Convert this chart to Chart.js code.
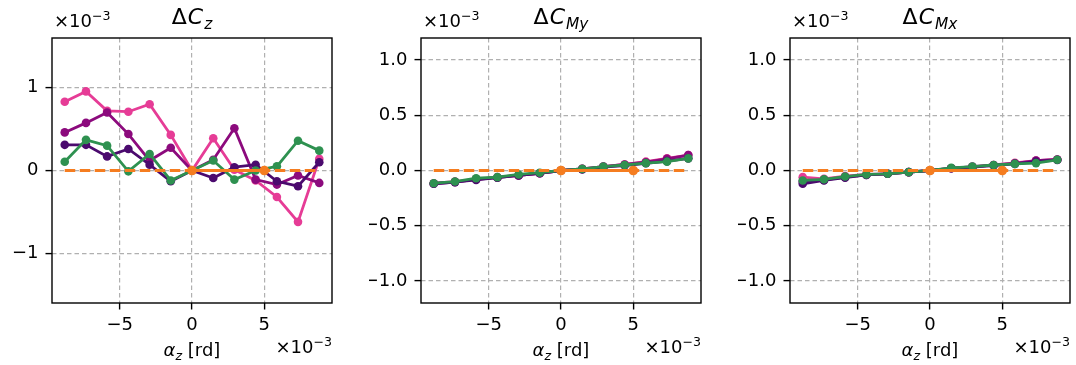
<!DOCTYPE html>
<html>
<head>
<meta charset="utf-8">
<script src="https://cdn.jsdelivr.net/npm/chart.js@4"></script>
<style>
body { margin: 0; background: #fff; width: 1076px; height: 365px; position: relative; overflow: hidden; }
canvas { position: absolute; top: 0; }
</style>
</head>
<body>
<canvas id="cz" width="338" height="365" style="left:0px"></canvas>
<canvas id="cmy" width="338" height="365" style="left:369px"></canvas>
<canvas id="cmx" width="338" height="365" style="left:738px"></canvas>
<script>
// all values in units of 1e-3 (see the x10^-3 offset labels)
const alphaZ = [-8.8, -7.33, -5.87, -4.4, -2.93, -1.47, 0, 1.47, 2.93, 4.4, 5.87, 7.33, 8.8];
const refX = [-8.8, 8.8];
const refY = [0, 0];
const nomX = [0, 5];
const nomY = [0, 0];

const czPink    = [0.83, 0.955, 0.72, 0.71, 0.80, 0.43, 0, 0.39, 0.01, -0.12, -0.32, -0.62, 0.14];
const czMagenta = [0.46, 0.575, 0.70, 0.44, 0.12, 0.275, 0, 0.13, 0.51, -0.11, -0.17, -0.06, -0.15];
const czIndigo  = [0.31, 0.31, 0.17, 0.26, 0.07, -0.13, 0, -0.09, 0.04, 0.07, -0.13, -0.19, 0.10];
const czGreen   = [0.105, 0.37, 0.30, -0.01, 0.20, -0.12, 0, 0.12, -0.11, 0.0, 0.05, 0.36, 0.24];

const cmyPink    = [-0.115, -0.10, -0.08, -0.06, -0.045, -0.025, 0, 0.015, 0.035, 0.055, 0.08, 0.11, 0.14];
const cmyMagenta = [-0.12, -0.105, -0.08, -0.065, -0.045, -0.025, 0, 0.015, 0.035, 0.055, 0.075, 0.105, 0.14];
const cmyIndigo  = [-0.12, -0.105, -0.085, -0.065, -0.045, -0.025, 0, 0.01, 0.03, 0.045, 0.065, 0.085, 0.11];
const cmyGreen   = [-0.115, -0.10, -0.07, -0.06, -0.036, -0.02, 0, 0.015, 0.036, 0.05, 0.067, 0.08, 0.11];

const cmxPink    = [-0.06, -0.075, -0.05, -0.035, -0.03, -0.015, 0, 0.02, 0.03, 0.05, 0.07, 0.09, 0.10];
const cmxMagenta = [-0.10, -0.085, -0.06, -0.04, -0.03, -0.015, 0, 0.02, 0.035, 0.05, 0.065, 0.09, 0.10];
const cmxIndigo  = [-0.12, -0.09, -0.065, -0.04, -0.03, -0.015, 0, 0.02, 0.03, 0.045, 0.06, 0.08, 0.095];
const cmxGreen   = [-0.09, -0.08, -0.055, -0.036, -0.03, -0.015, 0, 0.024, 0.036, 0.05, 0.06, 0.067, 0.097];

const xTicks = [-5, 0, 5];
const xTickLabels = ['\u22125', '0', '5'];
const czTicks = [-1, 0, 1];
const czTickLabels = ['\u22121', '0', '1'];
const cmTicks = [-1, -0.5, 0, 0.5, 1];
const cmTickLabels = ['\u22121.0', '\u22120.5', '0.0', '0.5', '1.0'];

const F = "'DejaVu Sans'";
const colPink = '#e63c96', colMagenta = '#8c0a7d', colIndigo = '#4b0a6e', colGreen = '#2e9150', colOrange = '#f57d20';

function pts(xs, ys) {
    return xs.map((x, i) => ({x: x, y: ys[i]}));
}

function drawRich(ctx, parts, x, y, align) {
    let w = 0;
    parts.forEach(p => { ctx.font = p.font; w += ctx.measureText(p.t).width + (p.gap || 0); });
    let cx = align === 'center' ? x - w / 2 : (align === 'right' ? x - w : x);
    ctx.fillStyle = '#000';
    ctx.textAlign = 'left';
    ctx.textBaseline = 'alphabetic';
    parts.forEach(p => {
        ctx.font = p.font;
        ctx.fillText(p.t, cx, y + (p.dy || 0));
        cx += ctx.measureText(p.t).width + (p.gap || 0);
    });
}

const offsetParts = [
    {t: '\u00d710', font: `18px ${F}`},
    {t: '\u22123', font: `12.6px ${F}`, dy: -7.5}
];
const xlabelParts = [
    {t: '\u03b1', font: `italic 18px ${F}`},
    {t: 'z', font: `italic 12.6px ${F}`, dy: 3.5},
    {t: ' [rd]', font: `18px ${F}`}
];

const panelText = {
    id: 'panelText',
    afterDraw(chart, args, opts) {
        const ctx = chart.ctx, a = chart.chartArea;
        ctx.save();
        ctx.strokeStyle = '#000';
        ctx.lineWidth = 1.4;
        ctx.strokeRect(a.left, a.top, a.right - a.left, a.bottom - a.top);
        drawRich(ctx, [
            {t: '\u0394', font: `22px ${F}`, gap: 1},
            {t: 'C', font: `italic 22px ${F}`, gap: 1},
            {t: opts.sub, font: `italic 15.4px ${F}`, dy: 4.5}
        ], (a.left + a.right) / 2, 24, 'center');
        drawRich(ctx, offsetParts, a.left + 2, 27, 'left');
        drawRich(ctx, offsetParts, a.right, 353, 'right');
        drawRich(ctx, xlabelParts, (a.left + a.right) / 2, 356, 'center');
        ctx.restore();
    }
};

function series(ys, color, order) {
    return {
        data: pts(alphaZ, ys),
        borderColor: color,
        backgroundColor: color,
        borderWidth: 2.8,
        pointRadius: 4.3,
        pointBorderWidth: 0,
        pointBackgroundColor: color,
        order: order
    };
}

function makePanel(id, sub, pink, magenta, indigo, green, yLim, yTicks, yLabels) {
    return new Chart(document.getElementById(id), {
        type: 'line',
        data: {
            datasets: [
                series(pink, colPink, 5),
                series(magenta, colMagenta, 4),
                series(indigo, colIndigo, 3),
                series(green, colGreen, 2),
                {
                    data: pts(refX, refY),
                    borderColor: colOrange,
                    borderWidth: 3,
                    borderDash: [10.5, 4.5],
                    pointRadius: 0,
                    order: 1
                },
                {
                    data: pts(nomX, nomY),
                    borderColor: colOrange,
                    backgroundColor: colOrange,
                    borderWidth: 3,
                    pointRadius: 4.8,
                    pointBorderWidth: 0,
                    pointBackgroundColor: colOrange,
                    order: 0
                }
            ]
        },
        options: {
            responsive: false,
            animation: false,
            layout: {padding: {left: 0, right: 6, top: 38, bottom: 0}},
            plugins: {
                legend: {display: false},
                tooltip: {enabled: false},
                panelText: {sub: sub}
            },
            scales: {
                x: {
                    type: 'linear',
                    min: -9.68,
                    max: 9.68,
                    afterBuildTicks: s => { s.ticks = xTicks.map(v => ({value: v})); },
                    afterFit: s => { s.height = 62; },
                    ticks: {
                        callback: (v, i) => xTickLabels[i],
                        color: '#000',
                        padding: 5,
                        maxRotation: 0,
                        font: {family: F, size: 18}
                    },
                    grid: {color: '#b0b0b0', lineWidth: 1.2, tickColor: '#000', tickWidth: 1.4, tickLength: 6.5, tickBorderDash: []},
                    border: {display: false, dash: [4.5, 3]}
                },
                y: {
                    type: 'linear',
                    min: -yLim,
                    max: yLim,
                    afterBuildTicks: s => { s.ticks = yTicks.map(v => ({value: v})); },
                    afterFit: s => { s.width = 52; },
                    ticks: {
                        callback: (v, i) => yLabels[i],
                        color: '#000',
                        padding: 7,
                        font: {family: F, size: 18}
                    },
                    grid: {color: '#b0b0b0', lineWidth: 1.2, tickColor: '#000', tickWidth: 1.4, tickLength: 6.5, tickBorderDash: []},
                    border: {display: false, dash: [4.5, 3]}
                }
            }
        },
        plugins: [panelText]
    });
}

makePanel('cz', 'z', czPink, czMagenta, czIndigo, czGreen, 1.6, czTicks, czTickLabels);
makePanel('cmy', 'My', cmyPink, cmyMagenta, cmyIndigo, cmyGreen, 1.2, cmTicks, cmTickLabels);
makePanel('cmx', 'Mx', cmxPink, cmxMagenta, cmxIndigo, cmxGreen, 1.2, cmTicks, cmTickLabels);
</script>
</body>
</html>
